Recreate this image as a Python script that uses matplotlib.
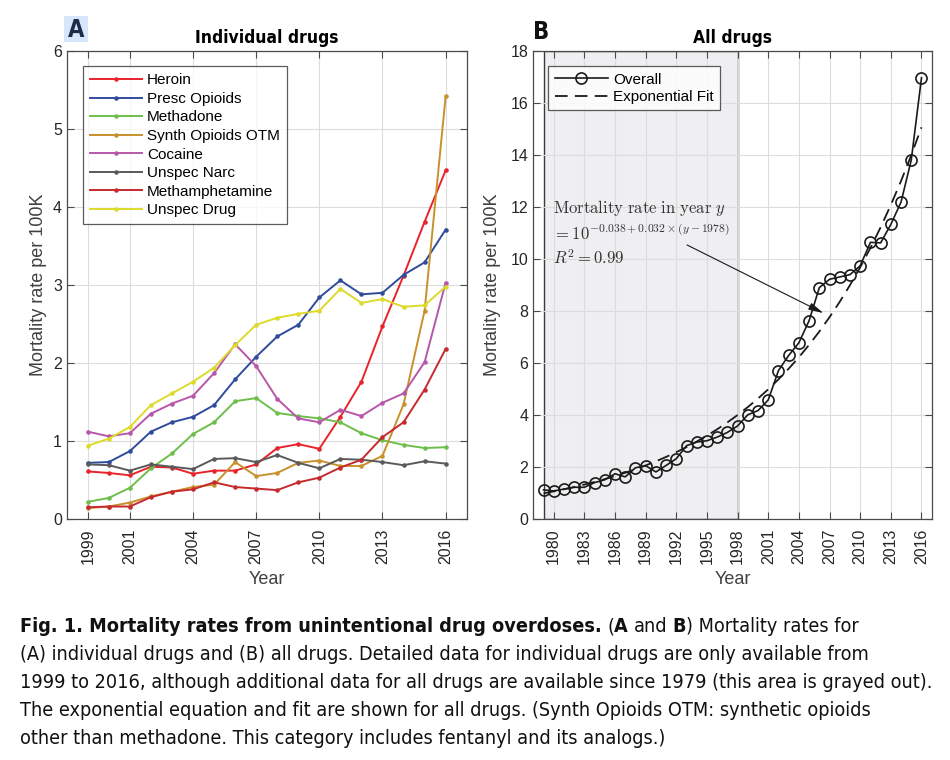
import matplotlib
matplotlib.use("Agg")
import matplotlib.pyplot as plt
from matplotlib import font_manager
import numpy as np

# ---------------- data ----------------
years_a = list(range(1999, 2017))
heroin = [0.61, 0.59, 0.56, 0.67, 0.66, 0.58, 0.62, 0.62, 0.70, 0.91, 0.96, 0.90, 1.31, 1.76, 2.47, 3.12, 3.81, 4.47]
presc_opioids = [0.72, 0.73, 0.87, 1.12, 1.24, 1.31, 1.46, 1.79, 2.08, 2.34, 2.49, 2.84, 3.06, 2.88, 2.90, 3.13, 3.29, 3.71]
methadone = [0.22, 0.27, 0.40, 0.65, 0.84, 1.09, 1.24, 1.51, 1.55, 1.36, 1.32, 1.29, 1.24, 1.10, 1.01, 0.95, 0.91, 0.92]
synth_opioids = [0.14, 0.16, 0.21, 0.29, 0.35, 0.41, 0.44, 0.73, 0.55, 0.59, 0.72, 0.75, 0.68, 0.68, 0.81, 1.47, 2.67, 5.42]
cocaine = [1.12, 1.06, 1.10, 1.35, 1.48, 1.58, 1.87, 2.24, 1.96, 1.54, 1.29, 1.24, 1.40, 1.32, 1.49, 1.61, 2.01, 3.03]
unspec_narc = [0.70, 0.69, 0.62, 0.70, 0.67, 0.64, 0.77, 0.78, 0.73, 0.82, 0.72, 0.65, 0.77, 0.76, 0.73, 0.69, 0.74, 0.71]
methamphetamine = [0.15, 0.16, 0.16, 0.28, 0.35, 0.38, 0.47, 0.41, 0.39, 0.37, 0.47, 0.53, 0.66, 0.76, 1.05, 1.24, 1.66, 2.18]
unspec_drug = [0.94, 1.03, 1.18, 1.46, 1.61, 1.76, 1.94, 2.23, 2.49, 2.58, 2.63, 2.67, 2.95, 2.77, 2.82, 2.72, 2.74, 2.98]

series_names = ["Heroin", "Presc Opioids", "Methadone", "Synth Opioids OTM",
                "Cocaine", "Unspec Narc", "Methamphetamine", "Unspec Drug"]
series_values = [heroin, presc_opioids, methadone, synth_opioids,
                 cocaine, unspec_narc, methamphetamine, unspec_drug]
series_colors = ["#E8232B", "#2F4C9C", "#6DBE4B", "#C8912C",
                 "#B757A9", "#5A5A5A", "#C62A2E", "#DEDA2A"]

years_b = list(range(1979, 2017))
overall = [1.12, 1.08, 1.15, 1.22, 1.22, 1.40, 1.51, 1.74, 1.62, 1.97,
           2.05, 1.81, 2.06, 2.32, 2.82, 2.96, 3.01, 3.15, 3.33, 3.58,
           4.01, 4.17, 4.58, 5.71, 6.29, 6.78, 7.63, 8.90, 9.22, 9.31,
           9.40, 9.74, 10.64, 10.62, 11.33, 12.19, 13.81, 16.97]
fit_intercept = -0.038
fit_slope = 0.032
fit_base_year = 1978

xticks_a = [1999, 2001, 2004, 2007, 2010, 2013, 2016]
xticks_b = list(range(1980, 2017, 3))
yticks_a = list(range(0, 7))
yticks_b = list(range(0, 19, 2))

caption_lines = [
    [("Fig. 1. Mortality rates from unintentional drug overdoses.", "bold"), ("(", "normal"),
     ("A", "bold"), ("and", "normal"), ("B", "bold"), (") Mortality rates for", "normal")],
    [("(A) individual drugs and (B) all drugs. Detailed data for individual drugs are only available from", "normal")],
    [("1999 to 2016, although additional data for all drugs are available since 1979 (this area is grayed out).", "normal")],
    [("The exponential equation and fit are shown for all drugs. (Synth Opioids OTM: synthetic opioids", "normal")],
    [("other than methadone. This category includes fentanyl and its analogs.)", "normal")],
]

# ---------------- fonts ----------------
avail = {f.name for f in font_manager.fontManager.ttflist}
if "Liberation Sans Narrow" in avail:
    cond_family = ["Liberation Sans Narrow", "DejaVu Sans"]
    cond_stretch = "normal"
else:
    cond_family = ["DejaVu Sans"]
    cond_stretch = "condensed"
plain = ["Liberation Sans", "DejaVu Sans"]
plt.rcParams["font.family"] = plain

tick_color = "#262626"
spine_color = "#4a4a4a"

fig = plt.figure(figsize=(9.5, 7.6), dpi=100)
W, H = 950.0, 760.0

def box(l, t, r, b):
    return [l / W, 1 - b / H, (r - l) / W, (b - t) / H]

axA = fig.add_axes(box(66.7, 51, 466.7, 519))
axB = fig.add_axes(box(533.3, 51, 931.7, 519))

def style(ax):
    ax.set_axisbelow(True)
    ax.grid(True, color="#dcdcdc", lw=0.8)
    for s in ax.spines.values():
        s.set_color(spine_color)
        s.set_linewidth(0.9)
    ax.tick_params(direction="in", top=True, right=True, length=5, width=0.8,
                   colors=spine_color, labelcolor=tick_color, labelsize=11.5)
    ax.tick_params(axis="x", labelrotation=90, pad=7)

# ---------------- panel A ----------------
style(axA)
for name, vals, col in zip(series_names, series_values, series_colors):
    axA.plot(years_a, vals, color=col, lw=1.4, marker=".", markersize=4.5, label=name)
axA.set_xlim(1998, 2017)
axA.set_ylim(0, 6)
axA.set_xticks(xticks_a)
axA.set_yticks(yticks_a)
axA.set_xlabel("Year", fontsize=13, color="#404040", labelpad=5)
axA.set_ylabel("Mortality rate per 100K", fontsize=13, color="#404040", labelpad=4)
legA = axA.legend(loc="upper left", bbox_to_anchor=(0.04, 0.967), fontsize=11,
                  handlelength=3.4, frameon=True, fancybox=False, edgecolor="#333333",
                  borderpad=0.45, labelspacing=0.3, handletextpad=0.35, borderaxespad=0)
legA.get_frame().set_linewidth(0.9)
axA.set_title("Individual drugs", fontsize=12.5, fontweight="bold", family=cond_family,
              fontstretch=cond_stretch, pad=6)

# ---------------- panel B ----------------
style(axB)
axB.axvspan(1979, 1998, facecolor="#efeff2", edgecolor="#3a3a3a", lw=1.0, zorder=0.2)
fit_years = np.array(years_b)
fit_vals = 10 ** (fit_intercept + fit_slope * (fit_years - fit_base_year))
axB.plot(years_b, overall, color="#1a1a1a", lw=1.2, marker="o", markersize=8,
         markerfacecolor="none", markeredgewidth=1.2, label="Overall", zorder=3)
axB.plot(fit_years, fit_vals, color="#1a1a1a", lw=1.3, ls=(0, (7, 4)),
         label="Exponential Fit", zorder=2.5)
axB.set_xlim(1978, 2017)
axB.set_ylim(0, 18)
axB.set_xticks(xticks_b)
axB.set_yticks(yticks_b)
axB.set_xlabel("Year", fontsize=13, color="#404040", labelpad=5)
axB.set_ylabel("Mortality rate per 100K", fontsize=13, color="#404040", labelpad=7)
legB = axB.legend(loc="upper left", bbox_to_anchor=(0.038, 0.967), fontsize=11,
                  handlelength=3.5, frameon=True, fancybox=False, edgecolor="#333333",
                  borderpad=0.4, labelspacing=0.25, handletextpad=0.35, borderaxespad=0)
legB.get_frame().set_linewidth(0.9)
axB.set_title("All drugs", fontsize=12.5, fontweight="bold", family=cond_family,
              fontstretch=cond_stretch, pad=6)

tkw = dict(fontsize=12, color="#333333", math_fontfamily="cm", ha="left", va="center")
axB.text(1979.9, 11.96, r"$\mathrm{Mortality\ rate\ in\ year}\ y$", **tkw)
axB.text(1979.9, 11.0, r"$= 10^{-0.038+0.032\times(y-1978)}$", **tkw)
axB.text(1979.9, 10.04, r"$R^2 = 0.99$", **tkw)
axB.annotate("", xy=(2006.4, 7.92), xytext=(1993.05, 10.54),
             arrowprops=dict(arrowstyle="-|>,head_length=0.9,head_width=0.22",
                             color="#1a1a1a", lw=0.8, shrinkA=0, shrinkB=0), zorder=4)

# ---------------- panel letters ----------------
fig.patches.append(plt.Rectangle((64 / W, 1 - 41.5 / H), 24 / W, 25.5 / H,
                                 transform=fig.transFigure, facecolor="#d6e6fb",
                                 edgecolor="none"))
fig.text(76 / W, 1 - 30 / H, "A", fontsize=17, fontweight="bold", color="#1f2a48",
         ha="center", va="center", family=cond_family, fontstretch=cond_stretch)
fig.text(541 / W, 1 - 32 / H, "B", fontsize=17, fontweight="bold", color="#111111",
         ha="center", va="center", family=cond_family, fontstretch=cond_stretch)

# ---------------- caption ----------------
renderer = fig.canvas.get_renderer()
cap_size = 14.2
def text_w(s, weight):
    t = fig.text(0, 0, s, fontsize=cap_size, fontweight=weight, family=cond_family,
                 fontstretch=cond_stretch)
    w = t.get_window_extent(renderer).width
    t.remove()
    return w
space_w = text_w("a a", "normal") - text_w("aa", "normal")
line_y = [627, 655, 683, 711, 739]
for runs, yy in zip(caption_lines, line_y):
    x = 20.0
    for i, (s, weight) in enumerate(runs):
        if i > 0 and not (runs[i - 1][0].endswith("(") or s.startswith(")")):
            x += space_w
        t = fig.text(x / W, 1 - yy / H, s, fontsize=cap_size, fontweight=weight,
                     family=cond_family, fontstretch=cond_stretch, color="#111111",
                     ha="left", va="center")
        x += t.get_window_extent(renderer).width

fig.savefig("out.png", dpi=100)
